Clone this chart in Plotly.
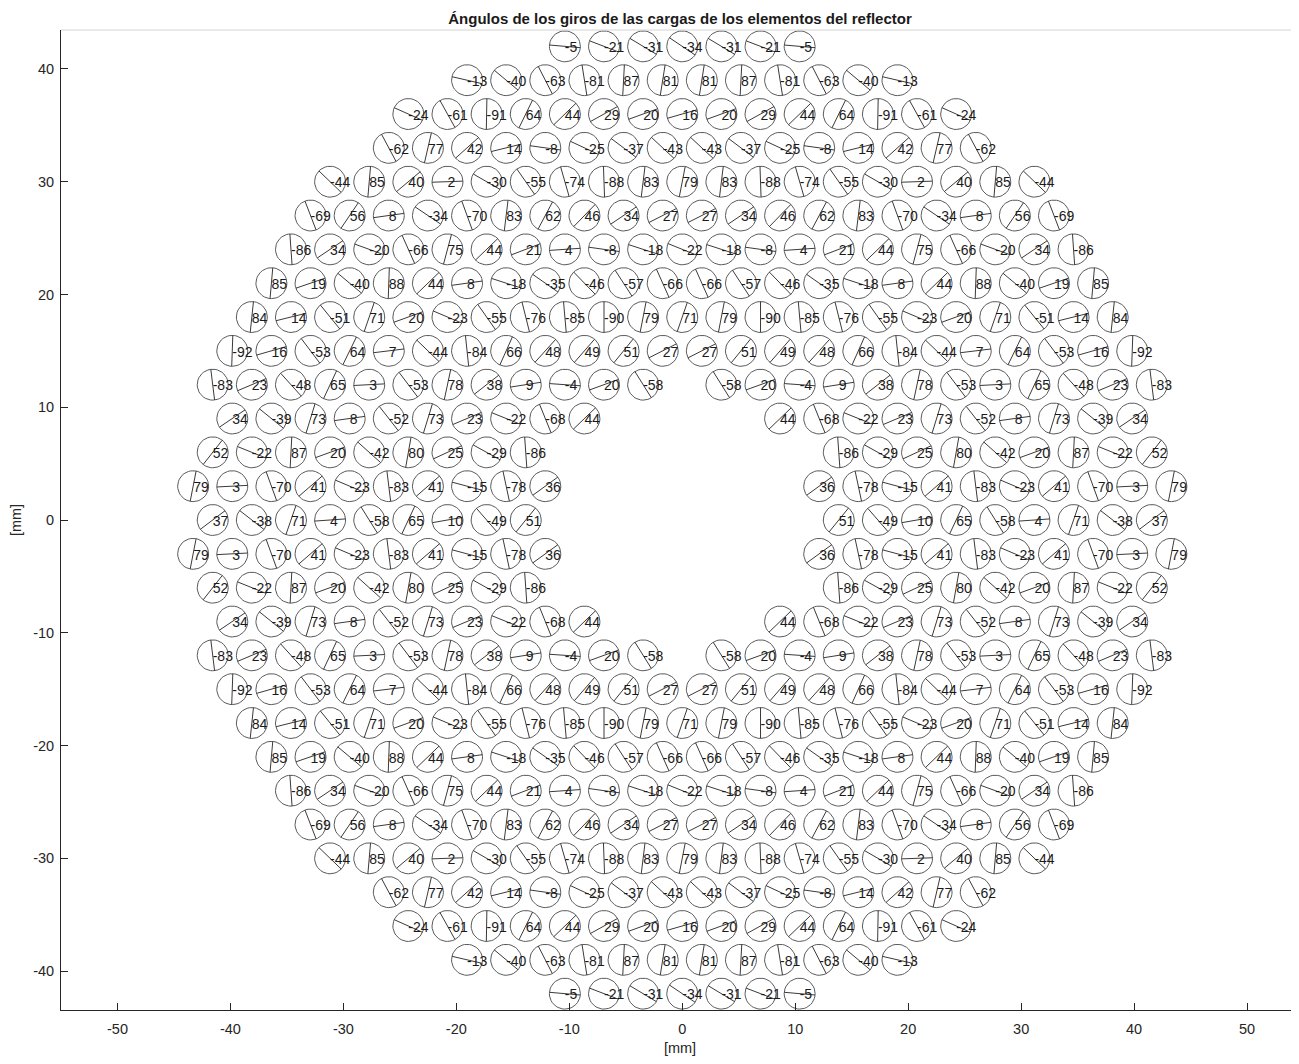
import numpy as np
import plotly.graph_objects as go

# angle of every element (degrees), one list per row, top row first
# None = empty cell in the central hole
row_p14 = [-5, -21, -31, -34, -31, -21, -5]
row_p13 = [-13, -40, -63, -81, 87, 81, 81, 87, -81, -63, -40, -13]
row_p12 = [-24, -61, -91, 64, 44, 29, 20, 16, 20, 29, 44, 64, -91, -61, -24]
row_p11 = [-62, 77, 42, 14, -8, -25, -37, -43, -43, -37, -25, -8, 14, 42, 77, -62]
row_p10 = [-44, 85, 40, 2, -30, -55, -74, -88, 83, 79, 83, -88, -74, -55, -30, 2, 40, 85, -44]
row_p9 = [-69, 56, 8, -34, -70, 83, 62, 46, 34, 27, 27, 34, 46, 62, 83, -70, -34, 8, 56, -69]
row_p8 = [-86, 34, -20, -66, 75, 44, 21, 4, -8, -18, -22, -18, -8, 4, 21, 44, 75, -66, -20, 34, -86]
row_p7 = [85, 19, -40, 88, 44, 8, -18, -35, -46, -57, -66, -66, -57, -46, -35, -18, 8, 44, 88, -40, 19, 85]
row_p6 = [84, 14, -51, 71, 20, -23, -55, -76, -85, -90, 79, 71, 79, -90, -85, -76, -55, -23, 20, 71, -51, 14, 84]
row_p5 = [-92, 16, -53, 64, 7, -44, -84, 66, 48, 49, 51, 27, 27, 51, 49, 48, 66, -84, -44, 7, 64, -53, 16, -92]
row_p4 = [-83, 23, -48, 65, 3, -53, 78, 38, 9, -4, 20, -58, None,
          -58, 20, -4, 9, 38, 78, -53, 3, 65, -48, 23, -83]
row_p3 = [34, -39, 73, 8, -52, 73, 23, -22, -68, 44, None, None, None, None,
          44, -68, -22, 23, 73, -52, 8, 73, -39, 34]
row_p2 = [52, -22, 87, 20, -42, 80, 25, -29, -86, None, None, None, None, None, None, None,
          -86, -29, 25, 80, -42, 20, 87, -22, 52]
row_p1 = [79, 3, -70, 41, -23, -83, 41, -15, -78, 36, None, None, None, None, None, None,
          36, -78, -15, 41, -83, -23, 41, -70, 3, 79]
row_0 = [37, -38, 71, 4, -58, 65, 10, -49, 51, None, None, None, None, None, None, None,
         51, -49, 10, 65, -58, 4, 71, -38, 37]
row_m1 = [79, 3, -70, 41, -23, -83, 41, -15, -78, 36, None, None, None, None, None, None,
          36, -78, -15, 41, -83, -23, 41, -70, 3, 79]
row_m2 = [52, -22, 87, 20, -42, 80, 25, -29, -86, None, None, None, None, None, None, None,
          -86, -29, 25, 80, -42, 20, 87, -22, 52]
row_m3 = [34, -39, 73, 8, -52, 73, 23, -22, -68, 44, None, None, None, None,
          44, -68, -22, 23, 73, -52, 8, 73, -39, 34]
row_m4 = [-83, 23, -48, 65, 3, -53, 78, 38, 9, -4, 20, -58, None,
          -58, 20, -4, 9, 38, 78, -53, 3, 65, -48, 23, -83]
row_m5 = [-92, 16, -53, 64, 7, -44, -84, 66, 48, 49, 51, 27, 27, 51, 49, 48, 66, -84, -44, 7, 64, -53, 16, -92]
row_m6 = [84, 14, -51, 71, 20, -23, -55, -76, -85, -90, 79, 71, 79, -90, -85, -76, -55, -23, 20, 71, -51, 14, 84]
row_m7 = [85, 19, -40, 88, 44, 8, -18, -35, -46, -57, -66, -66, -57, -46, -35, -18, 8, 44, 88, -40, 19, 85]
row_m8 = [-86, 34, -20, -66, 75, 44, 21, 4, -8, -18, -22, -18, -8, 4, 21, 44, 75, -66, -20, 34, -86]
row_m9 = [-69, 56, 8, -34, -70, 83, 62, 46, 34, 27, 27, 34, 46, 62, 83, -70, -34, 8, 56, -69]
row_m10 = [-44, 85, 40, 2, -30, -55, -74, -88, 83, 79, 83, -88, -74, -55, -30, 2, 40, 85, -44]
row_m11 = [-62, 77, 42, 14, -8, -25, -37, -43, -43, -37, -25, -8, 14, 42, 77, -62]
row_m12 = [-24, -61, -91, 64, 44, 29, 20, 16, 20, 29, 44, 64, -91, -61, -24]
row_m13 = [-13, -40, -63, -81, 87, 81, 81, 87, -81, -63, -40, -13]
row_m14 = [-5, -21, -31, -34, -31, -21, -5]

rows = [row_p14, row_p13, row_p12, row_p11, row_p10, row_p9, row_p8, row_p7,
        row_p6, row_p5, row_p4, row_p3, row_p2, row_p1, row_0,
        row_m1, row_m2, row_m3, row_m4, row_m5, row_m6, row_m7, row_m8,
        row_m9, row_m10, row_m11, row_m12, row_m13, row_m14]

x_ticks = [-50, -40, -30, -20, -10, 0, 10, 20, 30, 40, 50]
y_ticks = [-40, -30, -20, -10, 0, 10, 20, 30, 40]

# hexagonal lattice geometry (mm)
PITCH_Y = 3.0
PITCH_X = 2 * np.sqrt(3)
Y_TOP = 42.0
R = 1.37

cx, cy, ang = [], [], []
for i, row in enumerate(rows):
    y = Y_TOP - i * PITCH_Y
    n = len(row)
    for k, a in enumerate(row):
        if a is None:
            continue
        cx.append((k - (n - 1) / 2) * PITCH_X)
        cy.append(y)
        ang.append(a)
cx = np.array(cx)
cy = np.array(cy)
ang = np.array(ang, dtype=float)

# circle outlines
t = np.linspace(0, 2 * np.pi, 41)
circ_x = np.concatenate([np.append(x0 + R * np.cos(t), np.nan) for x0 in cx])
circ_y = np.concatenate([np.append(y0 + R * np.sin(t), np.nan) for y0 in cy])

# diameter drawn at the element angle
rad = np.deg2rad(ang)
seg_x = np.column_stack([cx - R * np.cos(rad), cx + R * np.cos(rad), np.full(len(cx), np.nan)]).ravel()
seg_y = np.column_stack([cy - R * np.sin(rad), cy + R * np.sin(rad), np.full(len(cy), np.nan)]).ravel()

fig = go.Figure()
fig.add_trace(go.Scatter(x=circ_x, y=circ_y, mode="lines",
                         line=dict(color="#5a5a5a", width=1), hoverinfo="skip"))
fig.add_trace(go.Scatter(x=seg_x, y=seg_y, mode="lines",
                         line=dict(color="#3a3a3a", width=1), hoverinfo="skip"))
fig.add_trace(go.Scatter(x=cx, y=cy - 0.2, mode="text", text=[str(int(a)) for a in ang],
                         textposition="middle right",
                         textfont=dict(family="Liberation Sans, Arial, sans-serif", size=14, color="#1a1a1a"),
                         hoverinfo="skip"))

# the page body has an 8px margin, so the figure is sized/offset to compensate
axis_font = dict(family="Liberation Sans, Arial, sans-serif", size=14.5, color="#262626")
fig.update_layout(
    width=1291, height=1048,
    margin=dict(l=53, r=0, t=22, b=46),
    paper_bgcolor="white", plot_bgcolor="white",
    showlegend=False,
    title=dict(text="<b>Ángulos de los giros de las cargas de los elementos del reflector</b>",
               x=0.5, xref="paper", y=1 - 11 / 1048, yref="container", yanchor="middle",
               font=dict(family="Liberation Sans, Arial, sans-serif", size=15, color="#1a1a1a")),
    xaxis=dict(range=[-55, 54.6], tickvals=x_ticks, ticktext=[str(v) for v in x_ticks],
               ticks="inside", ticklen=7, automargin=False, ticklabelstandoff=6,
               tickcolor="#262626", showline=True, linecolor="#262626", linewidth=1,
               showgrid=False, zeroline=False, tickfont=axis_font,
               title=dict(text="[mm]", font=axis_font, standoff=6)),
    yaxis=dict(range=[-43.45, 43.45], tickvals=y_ticks, ticktext=[str(v) for v in y_ticks],
               ticks="inside", ticklen=7, automargin=False, ticklabelstandoff=3,
               tickcolor="#262626", showline=True, linecolor="#262626", linewidth=1,
               showgrid=False, zeroline=False, tickfont=axis_font,
               title=dict(text="[mm]", font=axis_font, standoff=10)),
    shapes=[dict(type="line", xref="paper", yref="paper", x0=0, x1=1, y0=1, y1=1,
                 line=dict(color="#d4d4d4", width=1))],
)

fig.write_html("out.html")
